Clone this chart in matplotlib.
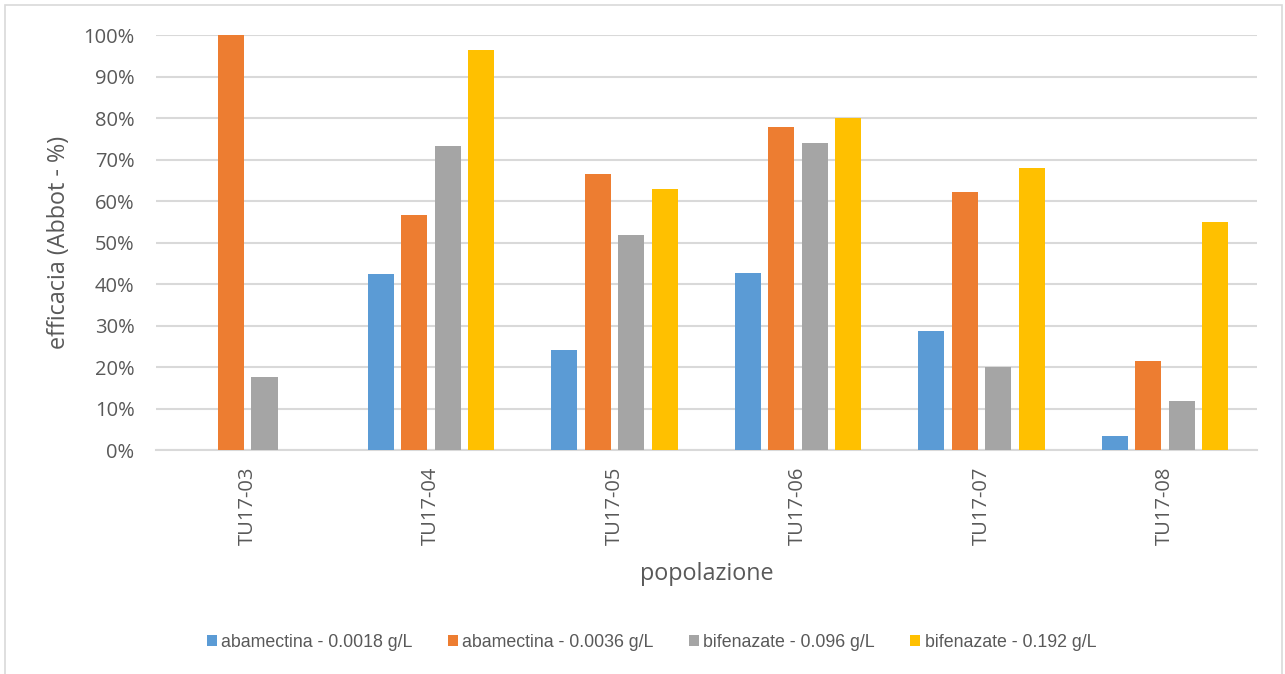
import numpy as np
import matplotlib
matplotlib.use('Agg')
import matplotlib.pyplot as plt
from matplotlib.patches import Rectangle
from matplotlib.ticker import PercentFormatter

# efficacy per population (Abbott, %)
populations = ['TU17-03', 'TU17-04', 'TU17-05', 'TU17-06', 'TU17-07', 'TU17-08']
aba_0018 = [np.nan, 42.3, 24.1, 42.7, 28.6, 3.4]
aba_0036 = [100.0, 56.7, 66.5, 77.8, 62.1, 21.4]
bif_096 = [17.5, 73.3, 51.7, 74.0, 20.0, 11.8]
bif_192 = [np.nan, 96.5, 63.0, 80.0, 68.0, 55.0]
series_names = ['abamectina - 0.0018 g/L', 'abamectina - 0.0036 g/L',
                'bifenazate - 0.096 g/L', 'bifenazate - 0.192 g/L']
colors = ['#5B9BD5', '#ED7D31', '#A5A5A5', '#FFC000']

text_col = '#595959'
plt.rcParams['font.family'] = ['Open Sans', 'DejaVu Sans']

fig = plt.figure(figsize=(12.85, 6.74), dpi=100)
ax = fig.add_axes([0.1214, 0.3323, 0.8566, 0.6157])

# chart frame
fig.patches.append(Rectangle((5 / 1285, -0.01), 1277 / 1285, 1 - 5 / 674 + 0.01,
                             transform=fig.transFigure, fill=False,
                             edgecolor='#d9d9d9', linewidth=1.2))

x = np.arange(len(populations))
pitch = 0.1826
width = 0.142
for i, (vals, name, c) in enumerate(zip([aba_0018, aba_0036, bif_096, bif_192],
                                        series_names, colors)):
    ax.bar(x + (i - 1.5) * pitch, vals, width, color=c, label=name, zorder=3)

ax.set_xlim(-0.5, len(populations) - 0.5)
ax.set_ylim(0, 100)
ax.set_yticks(np.arange(0, 101, 10))
ax.yaxis.set_major_formatter(PercentFormatter(decimals=0))
ax.set_xticks(x)
ax.set_xticklabels(populations, rotation=90)
ax.grid(axis='y', color='#d9d9d9', linewidth=1.5, zorder=0)
for s in ['top', 'right', 'left']:
    ax.spines[s].set_visible(False)
ax.spines['bottom'].set_color('#d9d9d9')
ax.spines['bottom'].set_linewidth(1.5)
ax.tick_params(axis='both', length=0, labelsize=14.5, colors=text_col)
ax.tick_params(axis='y', pad=15.5)
ax.tick_params(axis='x', pad=12)

ax.set_ylabel('efficacia (Abbot - %)', fontsize=16.8, color=text_col, labelpad=9)
ax.set_xlabel('popolazione', fontsize=16.8, color=text_col, labelpad=12)

leg = fig.legend(loc='center', bbox_to_anchor=(0.507, 0.047), ncol=4,
                 frameon=False, handlelength=0.55, handleheight=0.55,
                 handletextpad=0.25, columnspacing=2.0,
                 prop={'family': ['Liberation Sans', 'DejaVu Sans'], 'size': 12.8})
for t in leg.get_texts():
    t.set_color(text_col)

fig.savefig('out.png', dpi=100)
